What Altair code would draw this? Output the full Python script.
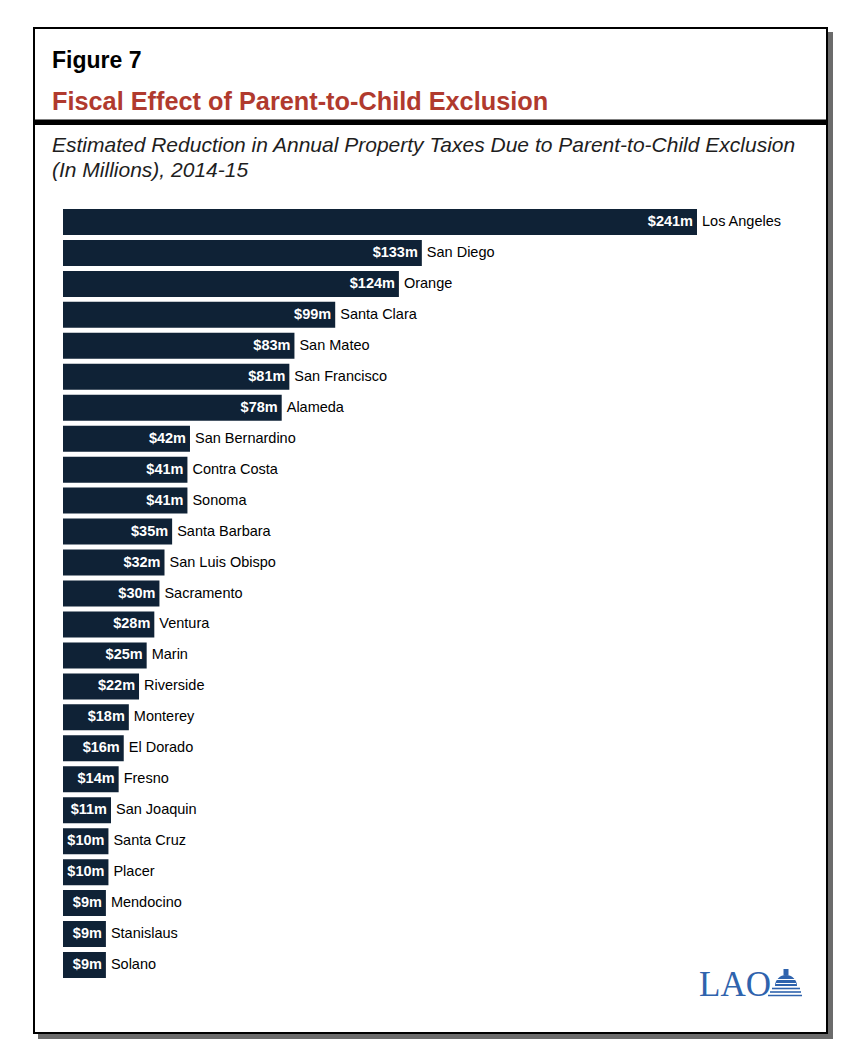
import altair as alt
import pandas as pd

counties = ["Los Angeles", "San Diego", "Orange", "Santa Clara", "San Mateo",
            "San Francisco", "Alameda", "San Bernardino", "Contra Costa", "Sonoma",
            "Santa Barbara", "San Luis Obispo", "Sacramento", "Ventura", "Marin",
            "Riverside", "Monterey", "El Dorado", "Fresno", "San Joaquin",
            "Santa Cruz", "Placer", "Mendocino", "Stanislaus", "Solano"]
values = [241, 133, 124, 99, 83, 81, 78, 42, 41, 41, 35, 32, 30, 28, 25,
          22, 18, 16, 14, 11, 10, 10, 9, 9, 9]
value_labels = ["$%dm" % v for v in values]

fig_label = "Figure 7"
title_text = "Fiscal Effect of Parent-to-Child Exclusion"
subtitle_lines = ["Estimated Reduction in Annual Property Taxes Due to Parent-to-Child Exclusion",
                  "(In Millions), 2014-15"]

df = pd.DataFrame({"county": counties, "value": values, "label": value_labels})
one = pd.DataFrame({"k": [0]})

FONT = "Liberation Sans"
BAR = "#0f2236"
RED = "#b03a2e"
BLUE = "#2f63ad"

BASE = -7.84  # bar start, leaving room for the in-bar labels
xs = alt.Scale(domain=[BASE, 241], range=[55, 689], zero=False, nice=False)
ys = alt.Scale(domain=counties, range=[198.5, 972.5], paddingInner=0.16, paddingOuter=0.08)

shadow = alt.Chart(one).mark_rect(color="#6b6b6b").encode(
    x=alt.value(30), x2=alt.value(825), y=alt.value(24), y2=alt.value(1031))
frame = alt.Chart(one).mark_rect(fill="white", stroke="black", strokeWidth=2).encode(
    x=alt.value(26), x2=alt.value(819), y=alt.value(20), y2=alt.value(1025))
rule = alt.Chart(one).mark_rect(color="black").encode(
    x=alt.value(26), x2=alt.value(819), y=alt.value(111.5), y2=alt.value(117))

t_fig = alt.Chart(one).mark_text(text=fig_label, font=FONT, fontSize=23, fontWeight="bold",
                                 align="left", baseline="alphabetic", color="black").encode(
    x=alt.value(44), y=alt.value(59.5))
t_title = alt.Chart(one).mark_text(text=title_text, font=FONT, fontSize=25.3, fontWeight="bold",
                                   align="left", baseline="alphabetic", color=RED).encode(
    x=alt.value(44), y=alt.value(101.5))
t_sub1 = alt.Chart(one).mark_text(text=subtitle_lines[0], font=FONT, fontSize=21, fontStyle="italic",
                                  align="left", baseline="alphabetic", color="#1e1e1e").encode(
    x=alt.value(44), y=alt.value(144))
t_sub2 = alt.Chart(one).mark_text(text=subtitle_lines[1], font=FONT, fontSize=21, fontStyle="italic",
                                  align="left", baseline="alphabetic", color="#1e1e1e").encode(
    x=alt.value(44), y=alt.value(168.5))

bars = alt.Chart(df).mark_bar(color=BAR).encode(
    x=alt.X("value:Q", scale=xs, axis=None),
    x2=alt.datum(BASE),
    y=alt.Y("county:N", scale=ys, axis=None, sort=counties),
)
vals = alt.Chart(df).mark_text(font=FONT, fontSize=14.5, fontWeight="bold", color="white",
                               align="right", baseline="middle", dx=-4).encode(
    x=alt.X("value:Q", scale=xs, axis=None),
    y=alt.Y("county:N", scale=ys, axis=None, sort=counties),
    text="label:N",
)
names = alt.Chart(df).mark_text(font=FONT, fontSize=14.5, color="black",
                                align="left", baseline="middle", dx=5).encode(
    x=alt.X("value:Q", scale=xs, axis=None),
    y=alt.Y("county:N", scale=ys, axis=None, sort=counties),
    text="county:N",
)

# LAO logo
lao = alt.Chart(one).mark_text(text="LAO", font="Liberation Serif", fontSize=35,
                               align="left", baseline="alphabetic", color=BLUE).encode(
    x=alt.value(691), y=alt.value(988))
dome = alt.Chart(one).mark_arc(color=BLUE, radius=11, theta=4.712, theta2=7.854).encode(
    x=alt.value(778), y=alt.value(978))
lantern = alt.Chart(one).mark_rect(color=BLUE).encode(
    x=alt.value(775.5), x2=alt.value(780.5), y=alt.value(961), y2=alt.value(967.5))
steps_df = pd.DataFrame({"x1": [764, 762, 760], "x2": [792, 793, 794], "y": [980.5, 984, 987.5]})
steps = alt.Chart(steps_df).mark_rule(color=BLUE, strokeWidth=1.6).encode(
    x=alt.X("x1:Q", scale=None), x2="x2:Q", y=alt.Y("y:Q", scale=None))
stripes_df = pd.DataFrame({"x1": [769, 768], "x2": [787, 788], "y": [971.5, 975.5]})
stripes = alt.Chart(stripes_df).mark_rule(color="white", strokeWidth=1).encode(
    x=alt.X("x1:Q", scale=None), x2="x2:Q", y=alt.Y("y:Q", scale=None))

chart = alt.layer(
    shadow, frame, rule, t_fig, t_title, t_sub1, t_sub2,
    bars, vals, names, lao, dome, lantern, stripes, steps
).properties(
    width=834, height=1046, padding=0, autosize=alt.AutoSizeParams(type="none")
).configure_view(stroke=None)

chart.save("out.html", embed_options={"renderer": "svg", "actions": False})
